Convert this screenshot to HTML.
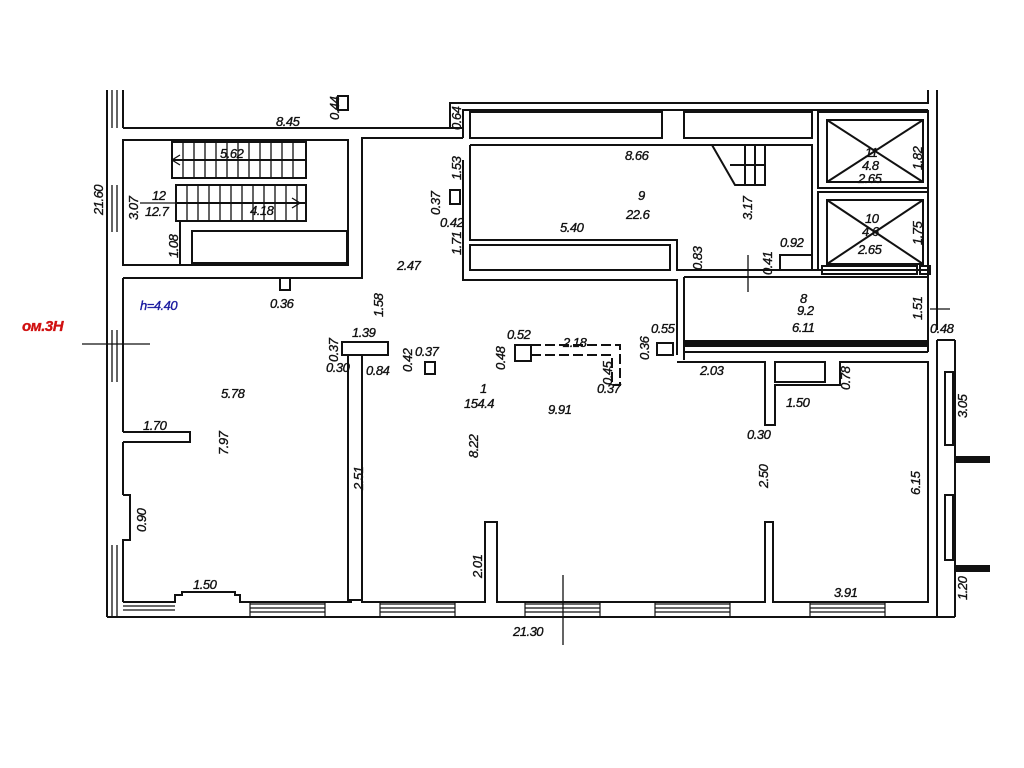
<!DOCTYPE html>
<html><head><meta charset="utf-8"><style>
html,body{margin:0;padding:0;background:#fff;width:1024px;height:768px;overflow:hidden}
svg text{font-family:"Liberation Sans",sans-serif;font-style:italic;font-size:13px;fill:#111;stroke:#111;stroke-width:0.35px;letter-spacing:-0.5px}
</style></head><body>
<svg width="1024" height="768" viewBox="0 0 1024 768" xmlns="http://www.w3.org/2000/svg">
<g fill="none" stroke="#111" stroke-width="2">
<line x1="107" y1="90" x2="107" y2="617"/>
<line x1="123" y1="90" x2="123" y2="128"/>
<line x1="123" y1="140" x2="123" y2="265"/>
<line x1="123" y1="278" x2="123" y2="432"/>
<line x1="123" y1="442" x2="123" y2="495"/>
<polyline points="123,495 130,495 130,540 123,540 123,602"/>
<g stroke-width="1.3">
<line x1="112" y1="90" x2="112" y2="128"/><line x1="117" y1="90" x2="117" y2="128"/>
<line x1="112" y1="185" x2="112" y2="232"/><line x1="117" y1="185" x2="117" y2="232"/>
<line x1="112" y1="330" x2="112" y2="382"/><line x1="117" y1="330" x2="117" y2="382"/>
<line x1="112" y1="545" x2="112" y2="617"/><line x1="117" y1="545" x2="117" y2="617"/>
</g>
<line x1="123" y1="128" x2="463" y2="128"/>
<rect x="123" y="140" width="225" height="125"/>
<polyline points="123,278 362,278 362,138 463,138"/>
<rect x="172" y="142" width="134" height="36"/>
<rect x="176" y="185" width="130" height="36"/>
<line x1="172" y1="160" x2="306" y2="160"/>
<line x1="176" y1="203" x2="306" y2="203"/>
<line x1="180" y1="221" x2="180" y2="265"/>
<rect x="192" y="231" width="155" height="32"/>
<g stroke-width="1.3">
<line x1="183" y1="142" x2="183" y2="178"/><line x1="194" y1="142" x2="194" y2="178"/><line x1="205" y1="142" x2="205" y2="178"/><line x1="216" y1="142" x2="216" y2="178"/><line x1="227" y1="142" x2="227" y2="178"/><line x1="238" y1="142" x2="238" y2="178"/><line x1="249" y1="142" x2="249" y2="178"/><line x1="260" y1="142" x2="260" y2="178"/><line x1="271" y1="142" x2="271" y2="178"/><line x1="282" y1="142" x2="282" y2="178"/><line x1="293" y1="142" x2="293" y2="178"/>
<line x1="187" y1="185" x2="187" y2="221"/><line x1="198" y1="185" x2="198" y2="221"/><line x1="209" y1="185" x2="209" y2="221"/><line x1="220" y1="185" x2="220" y2="221"/><line x1="231" y1="185" x2="231" y2="221"/><line x1="242" y1="185" x2="242" y2="221"/><line x1="253" y1="185" x2="253" y2="221"/><line x1="264" y1="185" x2="264" y2="221"/><line x1="275" y1="185" x2="275" y2="221"/><line x1="286" y1="185" x2="286" y2="221"/><line x1="297" y1="185" x2="297" y2="221"/>
<line x1="172" y1="160" x2="190" y2="160"/><polyline points="180,155 172,160 180,165"/>
<line x1="140" y1="203" x2="300" y2="203"/><polyline points="292,198 300,203 292,208"/>
</g>
<rect x="338" y="96" width="10" height="14"/>
<rect x="280" y="278" width="10" height="12"/>
<polyline points="450,128 450,103 928,103 928,90"/>
<line x1="937" y1="90" x2="937" y2="330"/>
<line x1="928" y1="110" x2="928" y2="330"/>
<polyline points="463,138 463,110 928,110"/>
<rect x="470" y="112" width="192" height="26"/>
<rect x="684" y="112" width="128" height="26"/>
<polyline points="463,160 463,280 677,280 677,355"/>
<polyline points="470,145 812,145 812,270"/>
<polyline points="470,145 470,240 677,240 677,270 820,270"/>
<rect x="470" y="245" width="200" height="25"/>
<line x1="684" y1="277" x2="928" y2="277"/>
<line x1="684" y1="277" x2="684" y2="360"/>
<rect x="780" y="255" width="32" height="15"/>
<rect x="822" y="266" width="95" height="8"/>
<rect x="920" y="266" width="10" height="8"/>
<rect x="818" y="112" width="110" height="76"/>
<rect x="827" y="120" width="96" height="62"/>
<line x1="827" y1="120" x2="923" y2="182"/><line x1="923" y1="120" x2="827" y2="182"/>
<rect x="818" y="192" width="110" height="78"/>
<rect x="827" y="200" width="96" height="64"/>
<line x1="827" y1="200" x2="923" y2="264"/><line x1="923" y1="200" x2="827" y2="264"/>
<polyline points="712,145 735,185 765,185 765,145"/>
<line x1="745" y1="145" x2="745" y2="185"/><line x1="755" y1="145" x2="755" y2="185"/>
<line x1="730" y1="165" x2="765" y2="165"/>
<line x1="684" y1="352" x2="928" y2="352"/>
<line x1="928" y1="330" x2="928" y2="352"/>
<rect x="450" y="190" width="10" height="14"/>
<rect x="657" y="343" width="16" height="12"/>
<polyline points="677,362 765,362 765,425 775,425 775,385 840,385 840,362 928,362 928,602 773,602 773,522 765,522 765,602 497,602 497,522 485,522 485,602 362,602 362,355"/>
<rect x="775" y="362" width="50" height="20"/>
<rect x="348" y="355" width="14" height="245"/>
<rect x="342" y="342" width="46" height="13"/>
<rect x="425" y="362" width="10" height="12"/>
<rect x="515" y="345" width="16" height="16"/>
<polyline points="531,345 620,345 620,385 612,385 612,355 531,355" stroke-dasharray="10,4"/>
<polyline points="123,432 190,432 190,442 123,442"/>
<polyline points="123,602 175,602 175,595 182,595 182,592 235,592 235,595 240,595 240,602 352,602"/>
<line x1="107" y1="617" x2="955" y2="617"/>
<line x1="937" y1="340" x2="937" y2="617"/>
<line x1="955" y1="340" x2="955" y2="617"/>
<line x1="937" y1="340" x2="955" y2="340"/>
<rect x="945" y="372" width="8" height="73"/>
<rect x="945" y="495" width="8" height="65"/>
<line x1="563" y1="575" x2="563" y2="645" stroke-width="1.3"/>
<line x1="82" y1="344" x2="150" y2="344" stroke-width="1.3"/>
<line x1="748" y1="255" x2="748" y2="292" stroke-width="1.3"/>
<line x1="930" y1="309" x2="950" y2="309" stroke-width="1.3"/>
<g stroke-width="1.2">
<line x1="123" y1="606" x2="175" y2="606"/><line x1="123" y1="610" x2="175" y2="610"/>
<line x1="250" y1="604" x2="325" y2="604"/><line x1="250" y1="608" x2="325" y2="608"/><line x1="250" y1="612" x2="325" y2="612"/>
<line x1="380" y1="604" x2="455" y2="604"/><line x1="380" y1="608" x2="455" y2="608"/><line x1="380" y1="612" x2="455" y2="612"/>
<line x1="525" y1="604" x2="600" y2="604"/><line x1="525" y1="608" x2="600" y2="608"/><line x1="525" y1="612" x2="600" y2="612"/>
<line x1="655" y1="604" x2="730" y2="604"/><line x1="655" y1="608" x2="730" y2="608"/><line x1="655" y1="612" x2="730" y2="612"/>
<line x1="810" y1="604" x2="885" y2="604"/><line x1="810" y1="608" x2="885" y2="608"/><line x1="810" y1="612" x2="885" y2="612"/>
<line x1="250" y1="602" x2="250" y2="617"/><line x1="325" y1="602" x2="325" y2="617"/>
<line x1="380" y1="602" x2="380" y2="617"/><line x1="455" y1="602" x2="455" y2="617"/>
<line x1="525" y1="602" x2="525" y2="617"/><line x1="600" y1="602" x2="600" y2="617"/>
<line x1="655" y1="602" x2="655" y2="617"/><line x1="730" y1="602" x2="730" y2="617"/>
<line x1="810" y1="602" x2="810" y2="617"/><line x1="885" y1="602" x2="885" y2="617"/>
</g>
</g>
<rect x="684" y="340" width="244" height="7" fill="#111"/>
<rect x="955" y="456" width="35" height="7" fill="#111"/>
<rect x="955" y="565" width="35" height="7" fill="#111"/>
<g>
<text x="276" y="126">8.45</text>
<text x="220" y="158">5.62</text>
<text x="250" y="215">4.18</text>
<text x="152" y="200">12</text>
<text x="145" y="216">12.7</text>
<text x="397" y="270">2.47</text>
<text x="270" y="308">0.36</text>
<text x="625" y="160">8.66</text>
<text x="638" y="200">9</text>
<text x="626" y="219">22.6</text>
<text x="560" y="232">5.40</text>
<text x="780" y="247">0.92</text>
<text x="865" y="157">11</text>
<text x="862" y="170">4.8</text>
<text x="858" y="183">2.65</text>
<text x="865" y="223">10</text>
<text x="862" y="236">4.6</text>
<text x="858" y="254">2.65</text>
<text x="800" y="303">8</text>
<text x="797" y="315">9.2</text>
<text x="792" y="332">6.11</text>
<text x="930" y="333">0.48</text>
<text x="352" y="337">1.39</text>
<text x="366" y="375">0.84</text>
<text x="326" y="372">0.30</text>
<text x="415" y="356">0.37</text>
<text x="507" y="339">0.52</text>
<text x="563" y="347">2.18</text>
<text x="597" y="393">0.37</text>
<text x="651" y="333">0.55</text>
<text x="700" y="375">2.03</text>
<text x="786" y="407">1.50</text>
<text x="747" y="439">0.30</text>
<text x="221" y="398">5.78</text>
<text x="143" y="430">1.70</text>
<text x="480" y="393">1</text>
<text x="464" y="408">154.4</text>
<text x="548" y="414">9.91</text>
<text x="193" y="589">1.50</text>
<text x="834" y="597">3.91</text>
<text x="513" y="636">21.30</text>
<text x="140" y="310" style="fill:#1a1aa0;stroke:#1a1aa0">h=4.40</text>
<text x="22" y="331" style="fill:#d01010;stroke:#d01010;font-weight:bold;font-size:15px">ом.3Н</text>
</g>
<g>
<text transform="translate(103,215) rotate(-90)">21.60</text>
<text transform="translate(138,220) rotate(-90)">3.07</text>
<text transform="translate(178,258) rotate(-90)">1.08</text>
<text transform="translate(339,120) rotate(-90)">0.44</text>
<text transform="translate(461,130) rotate(-90)">0.64</text>
<text transform="translate(461,180) rotate(-90)">1.53</text>
<text transform="translate(440,215) rotate(-90)">0.37</text>
<text transform="translate(461,255) rotate(-90)">1.71</text>
<text x="440" y="227">0.42</text>
<text transform="translate(752,220) rotate(-90)">3.17</text>
<text transform="translate(702,270) rotate(-90)">0.83</text>
<text transform="translate(772,275) rotate(-90)">0.41</text>
<text transform="translate(922,170) rotate(-90)">1.82</text>
<text transform="translate(922,245) rotate(-90)">1.75</text>
<text transform="translate(922,320) rotate(-90)">1.51</text>
<text transform="translate(383,317) rotate(-90)">1.58</text>
<text transform="translate(338,362) rotate(-90)">0.37</text>
<text transform="translate(412,372) rotate(-90)">0.42</text>
<text transform="translate(505,370) rotate(-90)">0.48</text>
<text transform="translate(612,385) rotate(-90)">0.45</text>
<text transform="translate(649,360) rotate(-90)">0.36</text>
<text transform="translate(850,390) rotate(-90)">0.78</text>
<text transform="translate(228,455) rotate(-90)">7.97</text>
<text transform="translate(478,458) rotate(-90)">8.22</text>
<text transform="translate(363,490) rotate(-90)">2.51</text>
<text transform="translate(146,532) rotate(-90)">0.90</text>
<text transform="translate(482,578) rotate(-90)">2.01</text>
<text transform="translate(768,488) rotate(-90)">2.50</text>
<text transform="translate(920,495) rotate(-90)">6.15</text>
<text transform="translate(967,418) rotate(-90)">3.05</text>
<text transform="translate(967,600) rotate(-90)">1.20</text>
</g>
</svg>
</body></html>
